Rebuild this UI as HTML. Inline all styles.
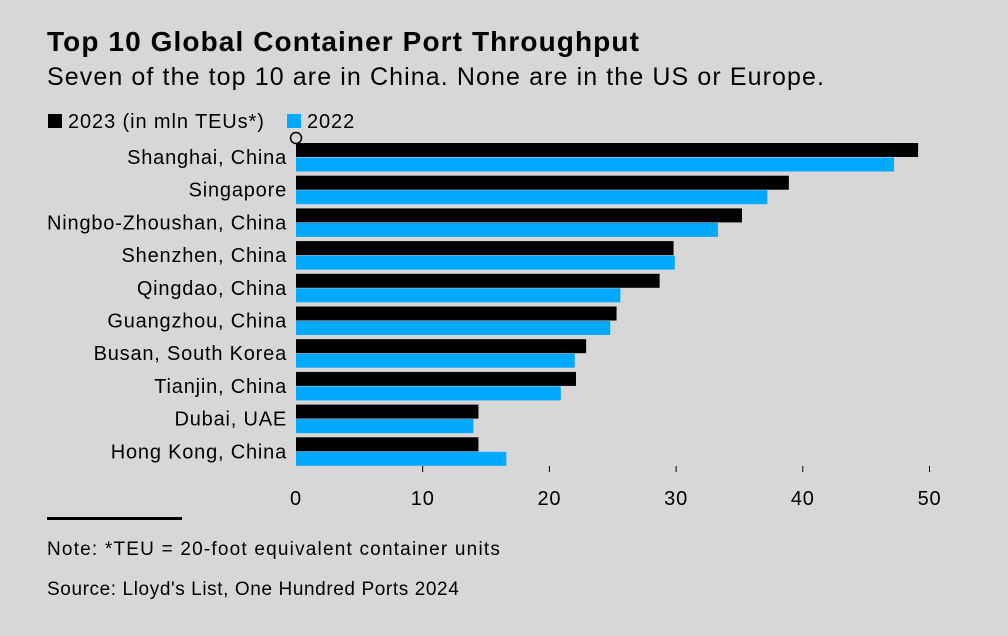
<!DOCTYPE html>
<html><head><meta charset="utf-8"><style>
body{margin:0;width:1008px;height:636px;background:#d7d7d7;font-family:"Liberation Sans",sans-serif;overflow:hidden;position:relative}
.t{position:absolute;white-space:nowrap;color:#000}
</style></head><body>
<div class="t" style="left:47px;top:26px;font-size:28px;font-weight:bold;letter-spacing:1.1px">Top 10 Global Container Port Throughput</div>
<div class="t" style="left:47px;top:63px;font-size:25px;letter-spacing:1.1px">Seven of the top 10 are in China. None are in the US or Europe.</div>
<div class="t" style="left:48px;top:111px;font-size:20px;letter-spacing:0.9px"><span style="display:inline-block;width:14px;height:14px;background:#000;margin-right:6px"></span>2023 (in mln TEUs*)</div>
<div class="t" style="left:287px;top:111px;font-size:20px;letter-spacing:0.9px"><span style="display:inline-block;width:14px;height:14px;background:#00a8ff;margin-right:6px"></span>2022</div>
<svg id="c" width="1008" height="636" style="position:absolute;left:0;top:0"></svg>
<div style="position:absolute;left:47px;top:517px;width:135px;height:3px;background:#000"></div>
<div class="t" style="left:47px;top:539px;font-size:19px;letter-spacing:1.2px">Note: *TEU = 20-foot equivalent container units</div>
<div class="t" style="left:47px;top:579px;font-size:19px;letter-spacing:0.6px">Source: Lloyd's List, One Hundred Ports 2024</div>
<script>
const ports=["Shanghai, China","Singapore","Ningbo-Zhoushan, China","Shenzhen, China","Qingdao, China","Guangzhou, China","Busan, South Korea","Tianjin, China","Dubai, UAE","Hong Kong, China"];
const v2023=[49.1,38.9,35.2,29.8,28.7,25.3,22.9,22.1,14.4,14.4];
const v2022=[47.2,37.2,33.3,29.9,25.6,24.8,22.0,20.9,14.0,16.6];
const ticks=[0,10,20,30,40,50];
const NS="http://www.w3.org/2000/svg",svg=document.getElementById('c');
const x=v=>296+v*12.67, y=i=>143+i*32.7;
function mk(t,a){const e=document.createElementNS(NS,t);for(const k in a)e.setAttribute(k,a[k]);svg.appendChild(e);return e;}
ports.forEach((p,i)=>{
 const b1=mk('rect',{x:x(0),y:y(i),width:x(v2023[i])-x(0),height:14,fill:'#000'});
 
 
 const b2=mk('rect',{x:x(0),y:y(i)+14.5,width:x(v2022[i])-x(0),height:14,fill:'#00a8ff'});
 
 
 const l=mk('text',{x:287,y:y(i)+21,'text-anchor':'end','font-size':20,'letter-spacing':0.8,fill:'#000'});
 l.textContent=p;
 
 
});
ticks.forEach(t=>{
 if(t>0){const tk=mk('line',{x1:x(t),x2:x(t),y1:466,y2:472,stroke:'#000','stroke-width':1});
 
 }
 const tl=mk('text',{x:x(t),y:505,'text-anchor':'middle','font-size':20,'letter-spacing':0.8,fill:'#000'});
 tl.textContent=t;
 
 
});
const c=mk('circle',{cx:296,cy:138,r:5.5,fill:'none',stroke:'#000','stroke-width':1.5});


</script>
</body></html>
